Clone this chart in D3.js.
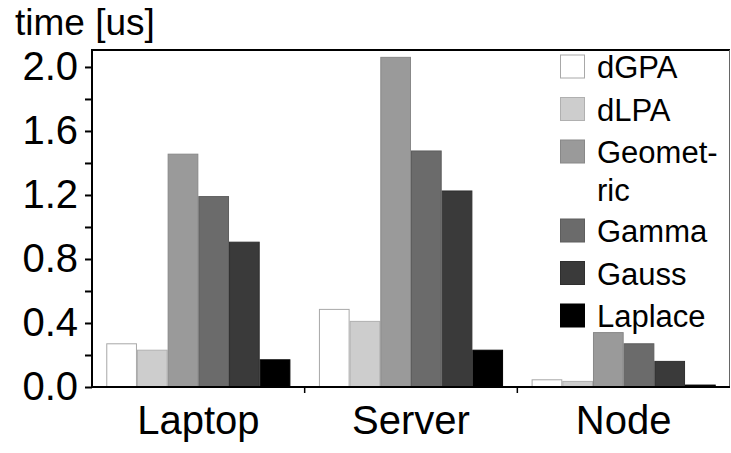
<!DOCTYPE html>
<html>
<head>
<meta charset="utf-8">
<script src="https://cdn.jsdelivr.net/npm/d3@7"></script>
<style>
  body { margin: 0; background: #fff; }
  svg text { font-family: "Liberation Sans", Arial, sans-serif; fill: #000; }
  .axis path { display: none; }
</style>
</head>
<body>
<svg id="chart" width="731" height="453"></svg>
<script>
// data
var platforms = ["Laptop", "Server", "Node"];
var methods = ["dGPA", "dLPA", "Geometric", "Gamma", "Gauss", "Laplace"];
var legendLabels = [["dGPA"], ["dLPA"], ["Geomet-", "ric"], ["Gamma"], ["Gauss"], ["Laplace"]];
var laptop = [0.27, 0.23, 1.455, 1.19, 0.905, 0.17];
var server = [0.485, 0.41, 2.06, 1.475, 1.225, 0.23];
var node   = [0.045, 0.035, 0.34, 0.27, 0.16, 0.012];
var yMajor = [0.0, 0.4, 0.8, 1.2, 1.6, 2.0];
var yMinor = [0.2, 0.6, 1.0, 1.4, 1.8];

var fills   = ["#ffffff", "#cdcdcd", "#9a9a9a", "#6b6b6b", "#3a3a3a", "#000000"];
var strokes = ["#a8a8a8", "#b0b0b0", "#888888", "#5e5e5e", "#2f2f2f", "#000000"];

var data = [laptop, server, node];

// plot box (note: "top" is a reserved window prop, so use other names)
var plotL = 92, plotR = 730, plotT = 50, plotB = 387;

var svg = d3.select("svg#chart");

var x0 = d3.scaleBand()
    .domain(platforms)
    .range([plotL, plotR])
    .padding(0);

var x1 = d3.scaleBand()
    .domain(methods)
    .range([0, x0.bandwidth()])
    .paddingInner(0)
    .paddingOuter(0.465);

var y = d3.scaleLinear()
    .domain([0, 2.106])
    .range([plotB, plotT]);

var color = d3.scaleOrdinal().domain(methods).range(fills);
var edge = d3.scaleOrdinal().domain(methods).range(strokes);

// bars
var groups = svg.append("g").selectAll("g")
    .data(platforms)
    .enter().append("g")
    .attr("transform", function(d) { return "translate(" + x0(d) + ",0)"; });

groups.selectAll("rect")
    .data(function(d, i) {
      return methods.map(function(m, j) { return {method: m, value: data[i][j]}; });
    })
    .enter().append("rect")
    .attr("x", function(d) { return x1(d.method) + 0.5; })
    .attr("y", function(d) { return y(d.value); })
    .attr("width", x1.bandwidth() - 1)
    .attr("height", function(d) { return plotB - y(d.value); })
    .attr("fill", function(d) { return color(d.method); })
    .attr("stroke", function(d) { return edge(d.method); })
    .attr("stroke-width", 1);

// frame
svg.append("line").attr("x1", plotL).attr("x2", plotR).attr("y1", plotT).attr("y2", plotT)
    .attr("stroke", "#000").attr("stroke-width", 2);
svg.append("line").attr("x1", plotR - 0.5).attr("x2", plotR - 0.5).attr("y1", plotT).attr("y2", plotB)
    .attr("stroke", "#666").attr("stroke-width", 1);
svg.append("line").attr("x1", plotL).attr("x2", plotL).attr("y1", plotT - 1).attr("y2", plotB + 1)
    .attr("stroke", "#000").attr("stroke-width", 2);
svg.append("line").attr("x1", plotL).attr("x2", plotR).attr("y1", plotB).attr("y2", plotB)
    .attr("stroke", "#000").attr("stroke-width", 2);

// y axis
var yAxis = d3.axisLeft(y)
    .tickValues(yMajor)
    .tickSize(7)
    .tickPadding(7)
    .tickFormat(d3.format(".1f"));

var gy = svg.append("g")
    .attr("class", "axis")
    .attr("transform", "translate(" + plotL + ",0)")
    .call(yAxis);
gy.selectAll("line").attr("stroke", "#000").attr("stroke-width", 2);
gy.selectAll("text").style("font-size", "40px");

var gyMinor = svg.append("g")
    .attr("class", "axis")
    .attr("transform", "translate(" + plotL + ",0)")
    .call(d3.axisLeft(y).tickValues(yMinor).tickSize(7).tickFormat(""));
gyMinor.selectAll("line").attr("stroke", "#000").attr("stroke-width", 2);

// x axis labels
var gx = svg.append("g")
    .attr("class", "axis")
    .attr("transform", "translate(0," + plotB + ")")
    .call(d3.axisBottom(x0).tickSize(0).tickPadding(19));
gx.selectAll("text").style("font-size", "40px");

// x ticks at band boundaries
var bounds = platforms.map(function(d) { return x0(d); }).concat([x0.range()[1]]);
svg.append("g").selectAll("line")
    .data(bounds.slice(1, -1))
    .enter().append("line")
    .attr("x1", function(d) { return d; })
    .attr("x2", function(d) { return d; })
    .attr("y1", plotB)
    .attr("y2", plotB + 6)
    .attr("stroke", "#000")
    .attr("stroke-width", 1.5);

// y title
svg.append("text")
    .attr("x", 15)
    .attr("y", 35)
    .style("font-size", "37px")
    .text("time [us]");

// legend
var legend = svg.append("g");
var ly = 67;
legendLabels.forEach(function(lines, i) {
  legend.append("rect")
      .attr("x", 560.5)
      .attr("y", ly - 12)
      .attr("width", 24)
      .attr("height", 23)
      .attr("fill", fills[i])
      .attr("stroke", strokes[i])
      .attr("stroke-width", 1);
  var t = legend.append("text")
      .attr("x", 597)
      .attr("y", ly + 11)
      .style("font-size", "31px");
  lines.forEach(function(s, k) {
    t.append("tspan").attr("x", 597).attr("dy", k === 0 ? 0 : 38).text(s);
  });
  ly += 42.5 + (lines.length - 1) * 36.5;
});
</script>
</body>
</html>
